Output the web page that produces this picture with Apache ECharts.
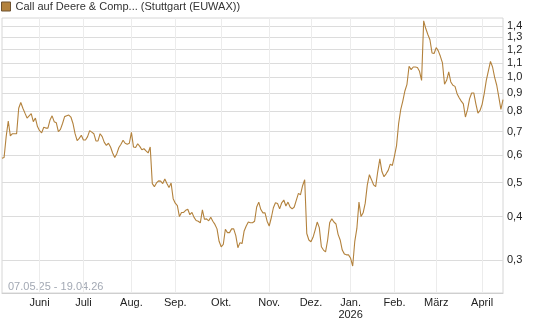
<!DOCTYPE html>
<html>
<head>
<meta charset="utf-8">
<script src="https://cdn.jsdelivr.net/npm/echarts@6/dist/echarts.min.js"></script>
<style>
  html, body { margin: 0; padding: 0; background: #fff; }
  #chart { width: 545px; height: 327px; }
</style>
</head>
<body>
<div id="chart"></div>
<script>
const seriesName = 'Call auf Deere & Comp... (Stuttgart (EUWAX))'
const rangeText = '07.05.25 - 19.04.26'
const firstDay = '2025-05-07'
const lastDay = '2026-04-17'
const holidays = ['2025-12-24', '2025-12-25', '2025-12-26', '2025-12-31', '2026-01-01', '2026-04-03', '2026-04-06']
const monthNames = ['Jan.', 'Feb.', 'März', 'April', 'Mai', 'Juni', 'Juli', 'Aug.', 'Sep.', 'Okt.', 'Nov.', 'Dez.']
const yTicks = [0.3, 0.4, 0.5, 0.6, 0.7, 0.8, 0.9, 1.0, 1.1, 1.2, 1.3, 1.4]

// one close per trading day
const prices = [
  0.587, 0.59, 0.677, 0.75, 0.68, 0.69, 0.69, 0.69, 0.816, 0.847,
  0.816, 0.79, 0.765, 0.776, 0.787, 0.747, 0.765, 0.723, 0.704, 0.694,
  0.72, 0.716, 0.716, 0.755, 0.776, 0.747, 0.742, 0.699, 0.71, 0.738,
  0.772, 0.776, 0.78, 0.77, 0.738, 0.69, 0.659, 0.669, 0.683, 0.662,
  0.662, 0.677, 0.704, 0.697, 0.69, 0.658, 0.658, 0.69, 0.677, 0.652,
  0.639, 0.648, 0.632, 0.608, 0.59, 0.605, 0.63, 0.644, 0.661, 0.648,
  0.644, 0.648, 0.696, 0.632, 0.63, 0.646, 0.635, 0.621, 0.625, 0.616,
  0.608, 0.632, 0.497, 0.487, 0.499, 0.506, 0.505, 0.497, 0.512, 0.497,
  0.484, 0.499, 0.45, 0.437, 0.43, 0.4, 0.411, 0.411, 0.417, 0.42,
  0.405, 0.411, 0.398, 0.39, 0.388, 0.384, 0.418, 0.393, 0.394, 0.389,
  0.398, 0.388, 0.38, 0.369, 0.34, 0.328, 0.333, 0.368, 0.36, 0.36,
  0.369, 0.369, 0.353, 0.326, 0.337, 0.335, 0.364, 0.376, 0.386, 0.384,
  0.384, 0.388, 0.426, 0.44, 0.419, 0.41, 0.41, 0.388, 0.376, 0.397,
  0.424, 0.438, 0.436, 0.421, 0.438, 0.446, 0.429, 0.44, 0.426, 0.421,
  0.426, 0.446, 0.466, 0.462, 0.49, 0.51, 0.358, 0.343, 0.339, 0.349,
  0.366, 0.386, 0.372, 0.328, 0.321, 0.317, 0.343, 0.385, 0.394, 0.386,
  0.381, 0.356, 0.343, 0.321, 0.313, 0.311, 0.311, 0.304, 0.289, 0.34,
  0.37, 0.44, 0.40, 0.41, 0.437, 0.493, 0.527, 0.51, 0.493, 0.487,
  0.538, 0.585, 0.538, 0.52, 0.53, 0.542, 0.565, 0.56, 0.595, 0.638,
  0.737, 0.808, 0.855, 0.914, 0.955, 1.075, 1.052, 1.07, 1.07, 1.066,
  1.04, 0.98, 1.45, 1.378, 1.325, 1.28, 1.174, 1.169, 1.216, 1.19,
  1.148, 1.099, 0.955, 0.98, 1.036, 0.97, 0.949, 0.942, 0.898, 0.874,
  0.855, 0.84, 0.77, 0.808, 0.869, 0.902, 0.902, 0.84, 0.79, 0.804,
  0.837, 0.898, 0.98, 1.043, 1.11, 1.07, 1.0, 0.949, 0.878, 0.81,
  0.863
]

function tradingDays(from, to, skip) {
  const out = []
  const d = new Date(from + 'T00:00:00Z')
  const end = new Date(to + 'T00:00:00Z')
  while (d <= end) {
    const iso = d.toISOString().slice(0, 10)
    const wd = d.getUTCDay()
    if (wd !== 0 && wd !== 6 && !skip.includes(iso)) out.push(iso)
    d.setUTCDate(d.getUTCDate() + 1)
  }
  return out
}

const days = tradingDays(firstDay, lastDay, holidays)

function isMonthStart(i) {
  return i > 0 && days[i].slice(5, 7) !== days[i - 1].slice(5, 7)
}

const lineColor = '#b3823d'
const chart = echarts.init(document.getElementById('chart'), null, { renderer: 'canvas' })

chart.setOption({
  animation: false,
  textStyle: { fontFamily: 'Arial, "Liberation Sans", sans-serif' },
  legend: {
    left: 1,
    top: 1,
    padding: 0,
    icon: 'rect',
    itemWidth: 9,
    itemHeight: 9,
    textStyle: { fontSize: 11, color: '#333' },
    data: [{ name: seriesName, itemStyle: { color: lineColor, borderColor: '#6e5230', borderWidth: 1 } }]
  },
  grid: {
    left: 2,
    right: 42,
    top: 18,
    bottom: 34,
    show: true,
    borderColor: '#d6d6d6',
    borderWidth: 1
  },
  graphic: [{
    type: 'text',
    left: 8,
    top: 281,
    style: { text: rangeText, fontSize: 11, fill: '#a3a9b4', fontFamily: 'Arial, "Liberation Sans", sans-serif' }
  }],
  xAxis: {
    type: 'category',
    data: days,
    boundaryGap: false,
    axisLine: { show: true, lineStyle: { color: '#cfcfcf' } },
    axisTick: { show: false },
    axisLabel: {
      interval: (i) => isMonthStart(i),
      formatter: (v) => {
        const m = +v.slice(5, 7)
        return m === 1 ? monthNames[0] + '\n' + v.slice(0, 4) : monthNames[m - 1]
      },
      fontSize: 11,
      color: '#222',
      margin: 4,
      lineHeight: 12
    },
    splitLine: {
      show: true,
      interval: (i) => isMonthStart(i),
      lineStyle: { color: '#ececec' }
    }
  },
  yAxis: {
    type: 'log',
    logBase: 10,
    position: 'right',
    min: 0.242,
    max: 1.477,
    axisLine: { show: false },
    axisTick: { show: false, customValues: yTicks },
    axisLabel: {
      customValues: yTicks,
      formatter: (v) => Number(v).toFixed(1).replace('.', ','),
      fontSize: 11,
      color: '#222',
      margin: 4
    },
    splitLine: { show: true, lineStyle: { color: '#dcdcdc' } }
  },
  series: [{
    name: seriesName,
    type: 'line',
    data: prices,
    showSymbol: false,
    symbol: 'none',
    lineStyle: { color: lineColor, width: 1.1 },
    itemStyle: { color: lineColor }
  }]
})
</script>
</body>
</html>
